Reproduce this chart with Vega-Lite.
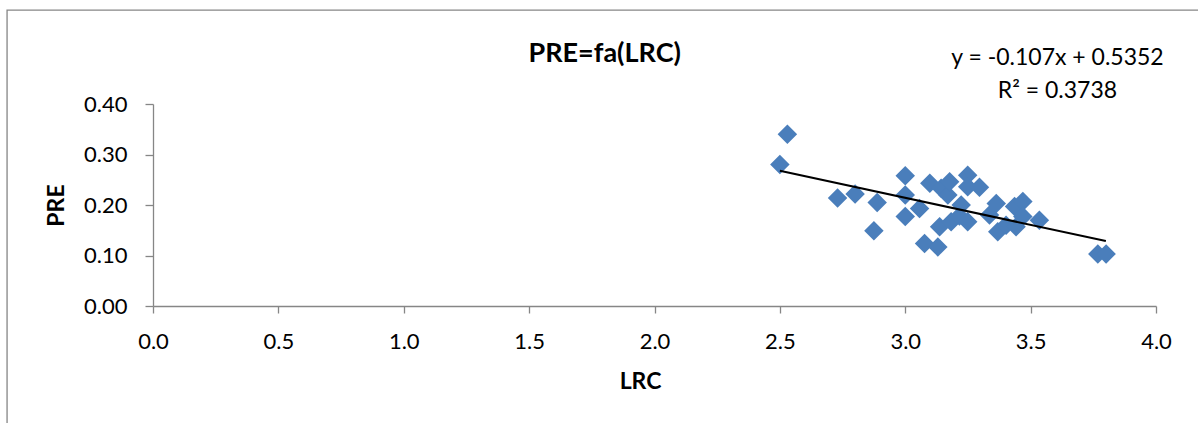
{
  "$schema": "https://vega.github.io/schema/vega-lite/v6.json",
  "width": 1003,
  "height": 202,
  "autosize": "none",
  "padding": {"left": 153, "top": 104, "right": 42, "bottom": 117},
  "background": "white",
  "config": {
    "view": {"stroke": null},
    "font": "Lato",
    "axis": {
      "grid": false,
      "domainColor": "#868686",
      "domainWidth": 1.3,
      "tickColor": "#868686",
      "tickWidth": 1.3,
      "labelFont": "Lato",
      "labelFontSize": 22,
      "labelColor": "#000000",
      "labelFlush": false,
      "labelOverlap": false,
      "titleFont": "Lato",
      "titleFontSize": 23,
      "titleFontWeight": "bold",
      "titleColor": "#000000"
    }
  },
  "datasets": {
    "points": [
      {"LRC": 2.50, "PRE": 0.280},
      {"LRC": 2.53, "PRE": 0.340},
      {"LRC": 2.73, "PRE": 0.214},
      {"LRC": 2.80, "PRE": 0.222},
      {"LRC": 2.875, "PRE": 0.149},
      {"LRC": 2.888, "PRE": 0.205},
      {"LRC": 3.00, "PRE": 0.258},
      {"LRC": 3.00, "PRE": 0.220},
      {"LRC": 3.00, "PRE": 0.177},
      {"LRC": 3.057, "PRE": 0.193},
      {"LRC": 3.077, "PRE": 0.124},
      {"LRC": 3.098, "PRE": 0.243},
      {"LRC": 3.13, "PRE": 0.117},
      {"LRC": 3.137, "PRE": 0.157},
      {"LRC": 3.143, "PRE": 0.233},
      {"LRC": 3.17, "PRE": 0.220},
      {"LRC": 3.177, "PRE": 0.246},
      {"LRC": 3.183, "PRE": 0.167},
      {"LRC": 3.216, "PRE": 0.178},
      {"LRC": 3.223, "PRE": 0.200},
      {"LRC": 3.249, "PRE": 0.259},
      {"LRC": 3.249, "PRE": 0.236},
      {"LRC": 3.249, "PRE": 0.167},
      {"LRC": 3.296, "PRE": 0.235},
      {"LRC": 3.336, "PRE": 0.180},
      {"LRC": 3.363, "PRE": 0.203},
      {"LRC": 3.369, "PRE": 0.147},
      {"LRC": 3.402, "PRE": 0.160},
      {"LRC": 3.436, "PRE": 0.197},
      {"LRC": 3.442, "PRE": 0.157},
      {"LRC": 3.469, "PRE": 0.207},
      {"LRC": 3.469, "PRE": 0.177},
      {"LRC": 3.535, "PRE": 0.170},
      {"LRC": 3.768, "PRE": 0.103},
      {"LRC": 3.801, "PRE": 0.103}
    ],
    "trend": [
      {"LRC": 2.50, "PRE": 0.2677},
      {"LRC": 3.80, "PRE": 0.1286}
    ]
  },
  "layer": [
    {
      "data": {"name": "points"},
      "mark": {"type": "point", "shape": "diamond", "filled": true, "color": "#4a7ebb", "opacity": 1, "size": 380},
      "encoding": {
        "x": {
          "field": "LRC", "type": "quantitative",
          "scale": {"domain": [0, 4], "nice": false},
          "axis": {"title": "LRC", "values": [0, 0.5, 1, 1.5, 2, 2.5, 3, 3.5, 4], "format": ".1f", "tickSize": 7, "labelPadding": 18, "titlePadding": 18, "titleX": 487}
        },
        "y": {
          "field": "PRE", "type": "quantitative",
          "scale": {"domain": [0, 0.4], "nice": false},
          "axis": {"title": "PRE", "values": [0, 0.1, 0.2, 0.3, 0.4], "format": ".2f", "tickSize": 8, "labelPadding": 18, "titlePadding": 15}
        }
      }
    },
    {
      "data": {"name": "trend"},
      "mark": {"type": "line", "color": "#000000", "strokeWidth": 2},
      "encoding": {
        "x": {"field": "LRC", "type": "quantitative", "scale": {"domain": [0, 4], "nice": false}},
        "y": {"field": "PRE", "type": "quantitative", "scale": {"domain": [0, 0.4], "nice": false}}
      }
    },
    {
      "data": {"values": [{}]},
      "mark": {"type": "rect", "fill": null, "stroke": "#868686", "strokeWidth": 1.3, "clip": false},
      "encoding": {
        "x": {"datum": -0.582, "type": "quantitative", "scale": {"domain": [0, 4], "nice": false}},
        "x2": {"datum": 4.4},
        "y": {"datum": 0.586, "type": "quantitative", "scale": {"domain": [0, 0.4], "nice": false}},
        "y2": {"datum": -0.4}
      }
    },
    {
      "data": {"values": [{}]},
      "mark": {"type": "text", "text": "PRE=fa(LRC)", "font": "Lato", "fontSize": 27, "fontWeight": "bold", "color": "#000000", "align": "center", "baseline": "alphabetic", "clip": false},
      "encoding": {
        "x": {"datum": 1.8015, "type": "quantitative", "scale": {"domain": [0, 4], "nice": false}},
        "y": {"datum": 0.4832, "type": "quantitative", "scale": {"domain": [0, 0.4], "nice": false}}
      }
    },
    {
      "data": {"values": [{}]},
      "mark": {"type": "text", "text": "y = -0.107x + 0.5352", "font": "Lato", "fontSize": 23, "color": "#000000", "align": "center", "baseline": "alphabetic", "clip": false},
      "encoding": {
        "x": {"datum": 3.607, "type": "quantitative", "scale": {"domain": [0, 4], "nice": false}},
        "y": {"datum": 0.4772, "type": "quantitative", "scale": {"domain": [0, 0.4], "nice": false}}
      }
    },
    {
      "data": {"values": [{}]},
      "mark": {"type": "text", "text": "R² = 0.3738", "font": "Lato", "fontSize": 23, "color": "#000000", "align": "center", "baseline": "alphabetic", "clip": false},
      "encoding": {
        "x": {"datum": 3.607, "type": "quantitative", "scale": {"domain": [0, 4], "nice": false}},
        "y": {"datum": 0.4119, "type": "quantitative", "scale": {"domain": [0, 0.4], "nice": false}}
      }
    }
  ]
}
